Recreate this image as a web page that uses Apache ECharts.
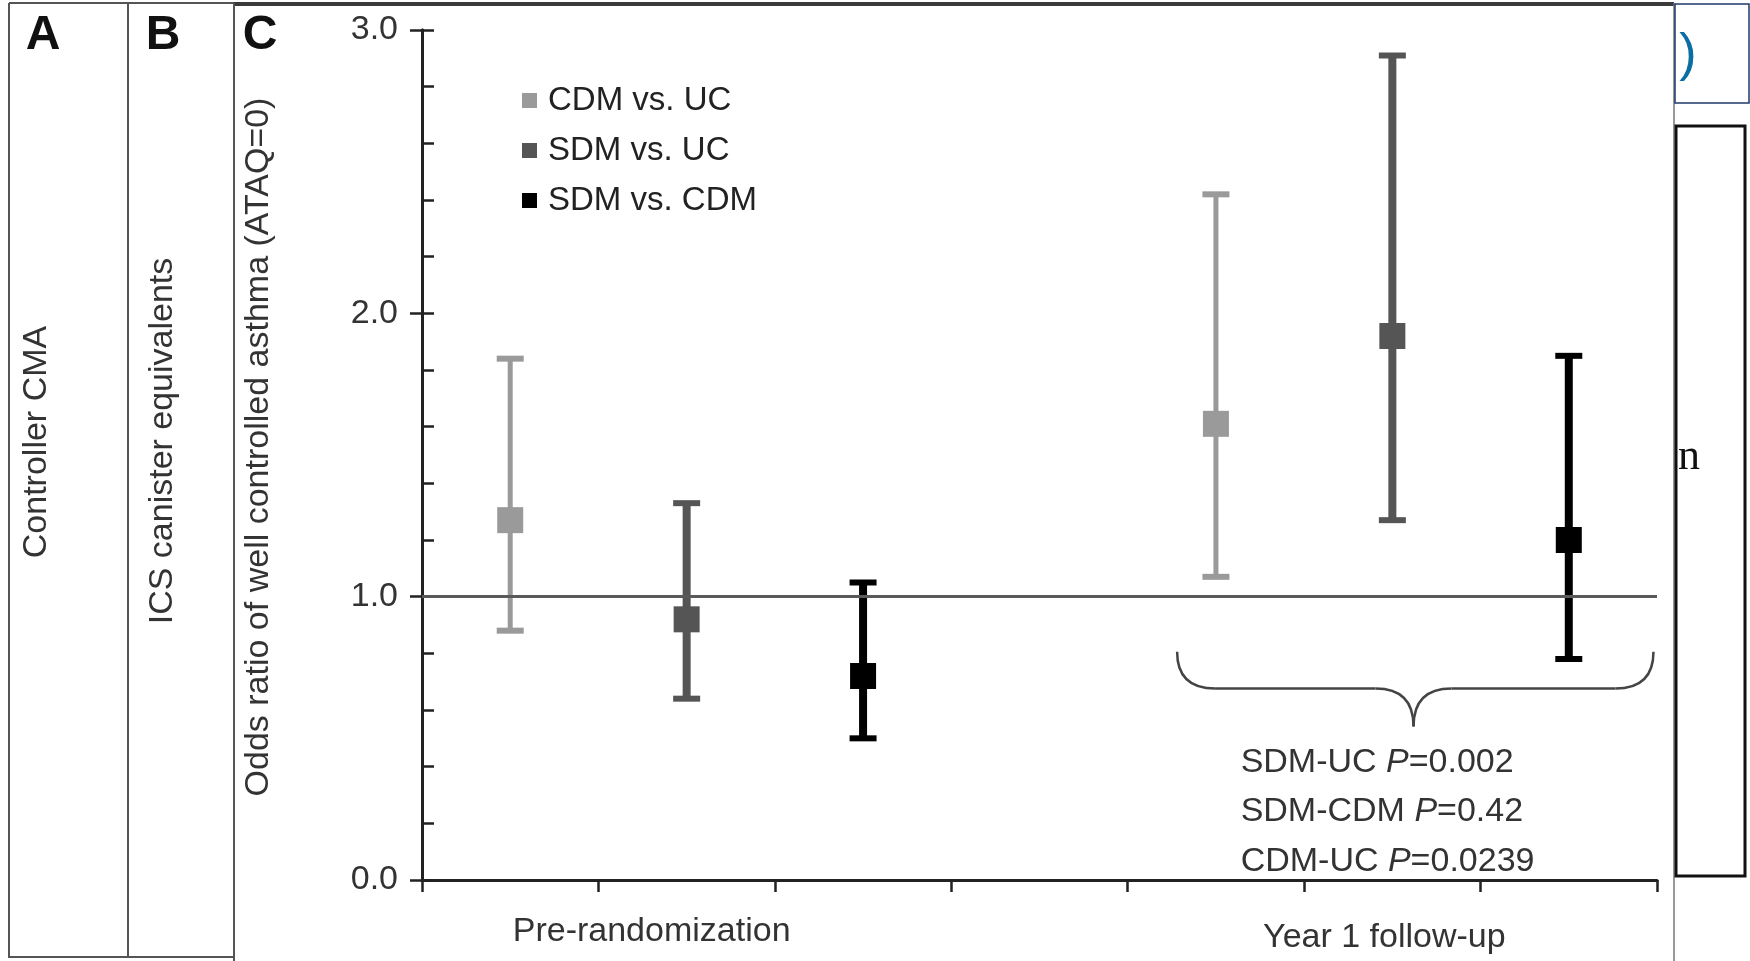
<!DOCTYPE html>
<html lang="en">
<head>
    <meta charset="UTF-8">
    <title>Odds ratio of well controlled asthma</title>
    <script src="https://cdn.jsdelivr.net/npm/echarts@6.0.0/dist/echarts.min.js"></script>
    <style>
        body {
            margin: 0;
            background-color: #fff;
        }

        #chart {
            width: 1750px;
            height: 961px;
        }
    </style>
</head>
<body>
    <div id="chart"></div>

    <script>
        // slots on the x axis: three comparisons, an empty gap, three comparisons
        const categories = ['pre-1', 'pre-2', 'pre-3', 'gap', 'y1-1', 'y1-2', 'y1-3'];
        const tickLabels = ['', 'Pre-randomization', '', '', '', 'Year 1 follow-up', ''];
        const yTicks = [0, 1, 2, 3];

        const seriesNames = ['CDM vs. UC', 'SDM vs. UC', 'SDM vs. CDM'];

        // odds ratio with 95% CI, pre-randomization then year 1
        const cdmUcSlot = [0, 4];
        const cdmUcMean = [1.27, 1.61];
        const cdmUcLow = [0.88, 1.07];
        const cdmUcHigh = [1.84, 2.42];

        const sdmUcSlot = [1, 5];
        const sdmUcMean = [0.92, 1.92];
        const sdmUcLow = [0.64, 1.27];
        const sdmUcHigh = [1.33, 2.91];

        const sdmCdmSlot = [2, 6];
        const sdmCdmMean = [0.72, 1.20];
        const sdmCdmLow = [0.50, 0.78];
        const sdmCdmHigh = [1.05, 1.85];

        const pValues = [
            ['SDM-UC', '0.002'],
            ['SDM-CDM', '0.42'],
            ['CDM-UC', '0.0239']
        ];

        const FONT = "'Liberation Sans', Arial, Helvetica, sans-serif";
        const FS = 34;
        const colors = ['#9a9a9a', '#555555', '#000000'];
        const lineWidths = [5, 8, 8];

        function rows(slot, mean, low, high) {
            return slot.map((s, i) => [s, low[i], high[i], mean[i]]);
        }

        function renderBar(params, api) {
            const idx = params.seriesIndex;
            const x = api.coord([api.value(0), 0])[0];
            const yLo = api.coord([api.value(0), api.value(1)])[1];
            const yHi = api.coord([api.value(0), api.value(2)])[1];
            const yMid = api.coord([api.value(0), api.value(3)])[1];
            const color = colors[idx];
            const capW = 27;
            const box = 26;
            const lineStyle = { stroke: color, lineWidth: lineWidths[idx] };
            const capStyle = { stroke: color, lineWidth: 6 };
            return {
                type: 'group',
                children: [
                    { type: 'line', shape: { x1: x, y1: yLo, x2: x, y2: yHi }, style: lineStyle },
                    { type: 'line', shape: { x1: x - capW / 2, y1: yHi, x2: x + capW / 2, y2: yHi }, style: capStyle },
                    { type: 'line', shape: { x1: x - capW / 2, y1: yLo, x2: x + capW / 2, y2: yLo }, style: capStyle },
                    { type: 'rect', shape: { x: x - box / 2, y: yMid - box / 2, width: box, height: box }, style: { fill: color } }
                ]
            };
        }

        const seriesData = [
            rows(cdmUcSlot, cdmUcMean, cdmUcLow, cdmUcHigh),
            rows(sdmUcSlot, sdmUcMean, sdmUcLow, sdmUcHigh),
            rows(sdmCdmSlot, sdmCdmMean, sdmCdmLow, sdmCdmHigh)
        ];

        // nudge the two group labels where the figure has them
        const labelPadding = { 'pre-2': [0, 70, 0, 0], 'y1-2': [6, 16, 0, 0] };

        const chart = echarts.init(document.getElementById('chart'));

        const option = {
            animation: false,
            textStyle: { fontFamily: FONT },
            grid: { left: 422, right: 93, top: 30, bottom: 81 },
            legend: {
                orient: 'vertical',
                left: 517,
                top: 79,
                itemWidth: 15,
                itemHeight: 15,
                itemGap: 17,
                textStyle: { fontSize: 33, color: '#222', fontFamily: FONT, padding: [0, 0, 0, 6] },
                data: seriesNames.map(n => ({ name: n, icon: 'rect' }))
            },
            xAxis: {
                type: 'category',
                boundaryGap: true,
                data: categories.map(c => labelPadding[c]
                    ? { value: c, textStyle: { padding: labelPadding[c] } }
                    : c),
                axisLine: { lineStyle: { color: '#222', width: 3 } },
                axisTick: { show: true, length: 12, lineStyle: { color: '#222', width: 2.5 } },
                axisLabel: {
                    interval: 0,
                    margin: 35,
                    fontSize: FS,
                    color: '#333',
                    fontFamily: FONT,
                    formatter: v => tickLabels[categories.indexOf(v)]
                },
                splitLine: { show: false }
            },
            yAxis: [
                {
                    // minor ticks every 0.2, pointing into the plot
                    type: 'value',
                    min: 0,
                    max: 3,
                    interval: 0.2,
                    axisLine: { show: true, lineStyle: { color: '#222', width: 3 } },
                    axisTick: { show: true, inside: true, length: 12, lineStyle: { color: '#222', width: 2.5 } },
                    axisLabel: { show: false },
                    splitLine: { show: false }
                },
                {
                    type: 'value',
                    min: yTicks[0],
                    max: yTicks[yTicks.length - 1],
                    interval: 1,
                    position: 'left',
                    name: 'Odds ratio of well controlled asthma (ATAQ=0)',
                    nameLocation: 'middle',
                    nameGap: 146,
                    nameTextStyle: { fontSize: FS, color: '#333', fontFamily: FONT, padding: [0, 0, 0, 16] },
                    axisLine: { show: true, lineStyle: { color: '#222', width: 3 } },
                    axisTick: { show: true, length: 12, lineStyle: { color: '#222', width: 2.5 } },
                    axisLabel: {
                        margin: 24,
                        fontSize: FS,
                        color: '#333',
                        fontFamily: FONT,
                        formatter: v => v.toFixed(1)
                    },
                    splitLine: { show: false }
                }
            ],
            series: seriesNames.map((name, i) => ({
                name: name,
                type: 'custom',
                xAxisIndex: 0,
                yAxisIndex: 0,
                itemStyle: { color: colors[i] },
                encode: { x: 0, y: [1, 2, 3] },
                renderItem: renderBar,
                data: seriesData[i],
                z: 3,
                markLine: i === 0 ? {
                    silent: true,
                    symbol: 'none',
                    label: { show: false },
                    lineStyle: { color: '#5a5a5a', width: 3, type: 'solid' },
                    data: [{ yAxis: 1 }]
                } : undefined
            }))
        };

        chart.setOption(option);

        // pixel helpers from the chart's own axes
        function px(slot, value) {
            const a = chart.convertToPixel({ xAxisIndex: 0, yAxisIndex: 0 }, [0, value]);
            const b = chart.convertToPixel({ xAxisIndex: 0, yAxisIndex: 0 }, [1, value]);
            return [a[0] + slot * (b[0] - a[0]), a[1]];
        }

        // curly brace under the year 1 comparisons
        const bL = px(3.78, 0.806);
        const bM = px(5.12, 0.676);
        const bT = px(5.12, 0.542);
        const bR = px(6.48, 0.806);
        const yB = bM[1];
        const r = 38;
        const braceStyle = { stroke: '#444', lineWidth: 2.5, fill: null };
        const brace = [
            { type: 'bezierCurve', shape: { x1: bL[0], y1: bL[1], cpx1: bL[0], cpy1: yB, x2: bL[0] + r, y2: yB } },
            { type: 'line', shape: { x1: bL[0] + r, y1: yB, x2: bM[0] - r, y2: yB } },
            { type: 'bezierCurve', shape: { x1: bM[0] - r, y1: yB, cpx1: bM[0], cpy1: yB, x2: bM[0], y2: bT[1] } },
            { type: 'bezierCurve', shape: { x1: bM[0] + r, y1: yB, cpx1: bM[0], cpy1: yB, x2: bM[0], y2: bT[1] } },
            { type: 'line', shape: { x1: bM[0] + r, y1: yB, x2: bR[0] - r, y2: yB } },
            { type: 'bezierCurve', shape: { x1: bR[0], y1: bR[1], cpx1: bR[0], cpy1: yB, x2: bR[0] - r, y2: yB } }
        ].map(el => Object.assign(el, { style: braceStyle }));

        const pTextY = [0.415, 0.242, 0.066];
        const pTexts = pValues.map((p, i) => {
            const pos = px(4.14, pTextY[i]);
            return {
                type: 'text',
                x: pos[0],
                y: pos[1],
                style: {
                    text: '{a|' + p[0] + ' }{i|P}{a|=' + p[1] + '}',
                    textVerticalAlign: 'middle',
                    rich: {
                        a: { fontSize: FS, fontFamily: FONT, fill: '#333' },
                        i: { fontSize: FS, fontFamily: FONT, fontStyle: 'italic', fill: '#333' }
                    }
                }
            };
        });

        const frameColor = '#555';
        const letter = { fontSize: 48, fontWeight: 'bold', fontFamily: FONT, fill: '#111', textAlign: 'center', textVerticalAlign: 'middle' };

        chart.setOption({
            graphic: [
                ...brace,
                ...pTexts,

                // panel frames of the figure strip
                { type: 'line', shape: { x1: 9, y1: 3, x2: 234, y2: 3 }, style: { stroke: frameColor, lineWidth: 2 } },
                { type: 'line', shape: { x1: 234, y1: 4, x2: 1674, y2: 4 }, style: { stroke: '#3a3a3a', lineWidth: 4 } },
                { type: 'line', shape: { x1: 9, y1: 957, x2: 234, y2: 957 }, style: { stroke: frameColor, lineWidth: 2 } },
                { type: 'line', shape: { x1: 9, y1: 3, x2: 9, y2: 958 }, style: { stroke: frameColor, lineWidth: 2 } },
                { type: 'line', shape: { x1: 128, y1: 3, x2: 128, y2: 958 }, style: { stroke: frameColor, lineWidth: 2 } },
                { type: 'line', shape: { x1: 234, y1: 3, x2: 234, y2: 961 }, style: { stroke: frameColor, lineWidth: 2 } },
                { type: 'line', shape: { x1: 1674, y1: 3, x2: 1674, y2: 961 }, style: { stroke: '#777', lineWidth: 1.5 } },

                { type: 'text', x: 43, y: 36, style: Object.assign({ text: 'A' }, letter) },
                { type: 'text', x: 163, y: 36, style: Object.assign({ text: 'B' }, letter) },
                { type: 'text', x: 260, y: 36, style: Object.assign({ text: 'C' }, letter) },
                { type: 'text', x: 37, y: 442, rotation: Math.PI / 2, style: { text: 'Controller CMA', fontSize: FS, fontFamily: FONT, fill: '#333', textAlign: 'center', textVerticalAlign: 'middle' } },
                { type: 'text', x: 163, y: 441, rotation: Math.PI / 2, style: { text: 'ICS canister equivalents', fontSize: FS, fontFamily: FONT, fill: '#333', textAlign: 'center', textVerticalAlign: 'middle' } },

                // clipped neighbouring page content on the right
                { type: 'rect', shape: { x: 1675, y: 4, width: 74, height: 99 }, style: { stroke: '#1f3a6e', lineWidth: 1.5, fill: null } },
                { type: 'text', x: 1688, y: 56, style: { text: ')', fontSize: 52, fontFamily: FONT, fill: '#0b6ea3', textAlign: 'center', textVerticalAlign: 'middle' } },
                { type: 'rect', shape: { x: 1676, y: 126, width: 69, height: 750 }, style: { stroke: '#111', lineWidth: 3, fill: null } },
                { type: 'text', x: 1678, y: 457, style: { text: 'n', fontSize: 44, fontFamily: "'Liberation Serif', 'Times New Roman', serif", fill: '#111', textVerticalAlign: 'middle' } }
            ]
        });
    </script>
</body>
</html>
